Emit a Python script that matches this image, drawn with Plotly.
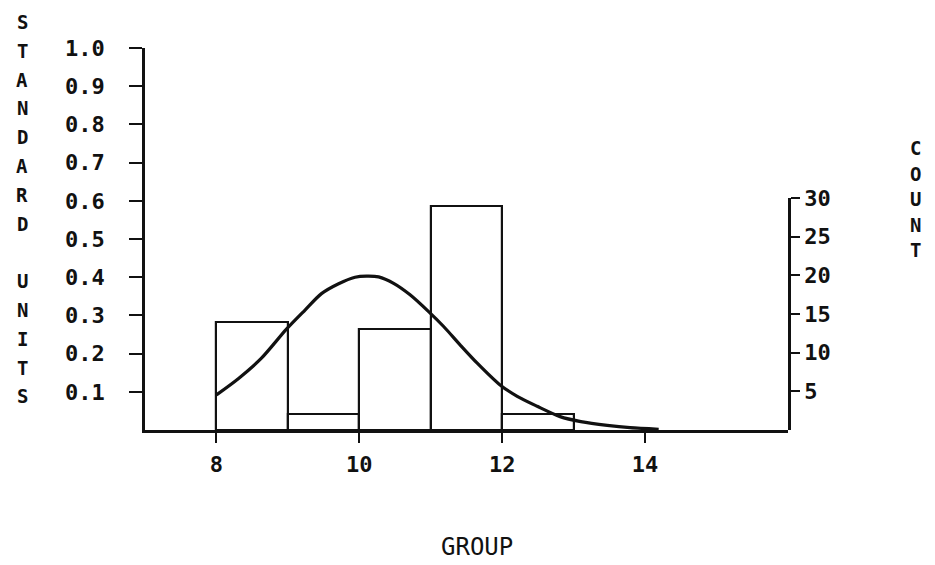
import plotly.graph_objects as go

# ---- data ----
bin_left = [8, 9, 10, 11, 12]          # histogram bins (width 1)
counts = [14, 2, 13, 29, 2]            # COUNT (right axis)

curve_x = [8.0, 8.31, 8.63, 8.98, 9.24, 9.47, 9.71, 9.94, 10.10, 10.27, 10.48,
           10.71, 10.97, 11.18, 11.41, 11.65, 11.97, 12.21, 12.49, 12.81, 13.10,
           13.47, 13.79, 14.19]
curve_y = [0.092, 0.135, 0.188, 0.264, 0.314, 0.357, 0.383, 0.400, 0.403, 0.401, 0.384,
           0.354, 0.310, 0.271, 0.223, 0.175, 0.118, 0.088, 0.062, 0.035, 0.022,
           0.012, 0.006, 0.002]

left_ticks = [0.1, 0.2, 0.3, 0.4, 0.5, 0.6, 0.7, 0.8, 0.9, 1.0]
right_ticks = [5, 10, 15, 20, 25, 30]
x_ticks = [8, 10, 12, 14]

left_title = "STANDARD UNITS"
right_title = "COUNT"
x_title = "GROUP"

# ---- layout geometry (page pixels; the page body adds an 8px offset) ----
W, H = 935, 565
OFF = 8
ML, MR, MT, MB = 145, 147, 48, 135
PW, PH = W - ML - MR, H - MT - MB
INK = "#111111"
FONT = "DejaVu Sans Mono"


def px_x(X):
    return (X - ML) / PW


def px_y(Y):
    return (H - MB - Y) / PH


fig = go.Figure()

fig.add_trace(go.Bar(
    x=[b + 0.5 for b in bin_left], y=counts, width=[1] * len(counts),
    yaxis="y2",
    marker=dict(color="rgba(0,0,0,0)", line=dict(color=INK, width=2.2)),
    showlegend=False, hoverinfo="x+y",
))

fig.add_trace(go.Scatter(
    x=curve_x, y=curve_y, mode="lines", yaxis="y",
    line=dict(color=INK, width=3.2, shape="spline", smoothing=0.8),
    showlegend=False,
))

tick_font = dict(family=FONT, size=22, color=INK, weight="bold")

fig.update_layout(
    width=W - OFF, height=H - OFF,
    margin=dict(l=ML - OFF, r=MR, t=MT - OFF, b=MB, pad=0),
    paper_bgcolor="white", plot_bgcolor="rgba(0,0,0,0)",
    bargap=0,
    xaxis=dict(
        range=[7, 16], tickvals=x_ticks, ticktext=[str(v) for v in x_ticks],
        showline=True, linecolor=INK, linewidth=2.5,
        ticks="outside", ticklen=10, tickwidth=2, tickcolor=INK,
        tickfont=tick_font, ticklabelstandoff=3,
        showgrid=False, zeroline=False, anchor="y",
    ),
    yaxis=dict(
        range=[0, 1.0], tickvals=left_ticks, ticktext=[f"{v:.1f}" for v in left_ticks],
        showline=True, linecolor=INK, linewidth=2.5,
        ticks="outside", ticklen=13, tickwidth=2, tickcolor=INK,
        tickfont=tick_font, ticklabelstandoff=20,
        showgrid=False, zeroline=False, anchor="x", domain=[0, 1],
    ),
    yaxis2=dict(
        range=[0, 30], tickvals=right_ticks, ticktext=[str(v) for v in right_ticks],
        domain=[0, 30 * 7.73 / PH], anchor="x", side="right",
        showline=True, linecolor=INK, linewidth=2.5,
        ticks="outside", ticklen=9, tickwidth=2, tickcolor=INK,
        tickfont=tick_font, ticklabelstandoff=0,
        showgrid=False, zeroline=False,
    ),
)

ann = []
for i, ch in enumerate(left_title):
    if ch == " ":
        continue
    ann.append(dict(text=ch, x=px_x(22), y=px_y(22 + i * 28.8), xref="paper", yref="paper",
                    showarrow=False, xanchor="center", yanchor="middle",
                    font=dict(family=FONT, size=19, color=INK, weight="bold")))
for i, ch in enumerate(right_title):
    ann.append(dict(text=ch, x=px_x(915), y=px_y(148 + i * 25.5), xref="paper", yref="paper",
                    showarrow=False, xanchor="center", yanchor="middle",
                    font=dict(family=FONT, size=19, color=INK, weight="bold")))
ann.append(dict(text=x_title, x=px_x(477), y=px_y(547), xref="paper", yref="paper",
                showarrow=False, xanchor="center", yanchor="middle",
                font=dict(family=FONT, size=24, color=INK)))
fig.update_layout(annotations=ann)

fig.write_html("out.html")
